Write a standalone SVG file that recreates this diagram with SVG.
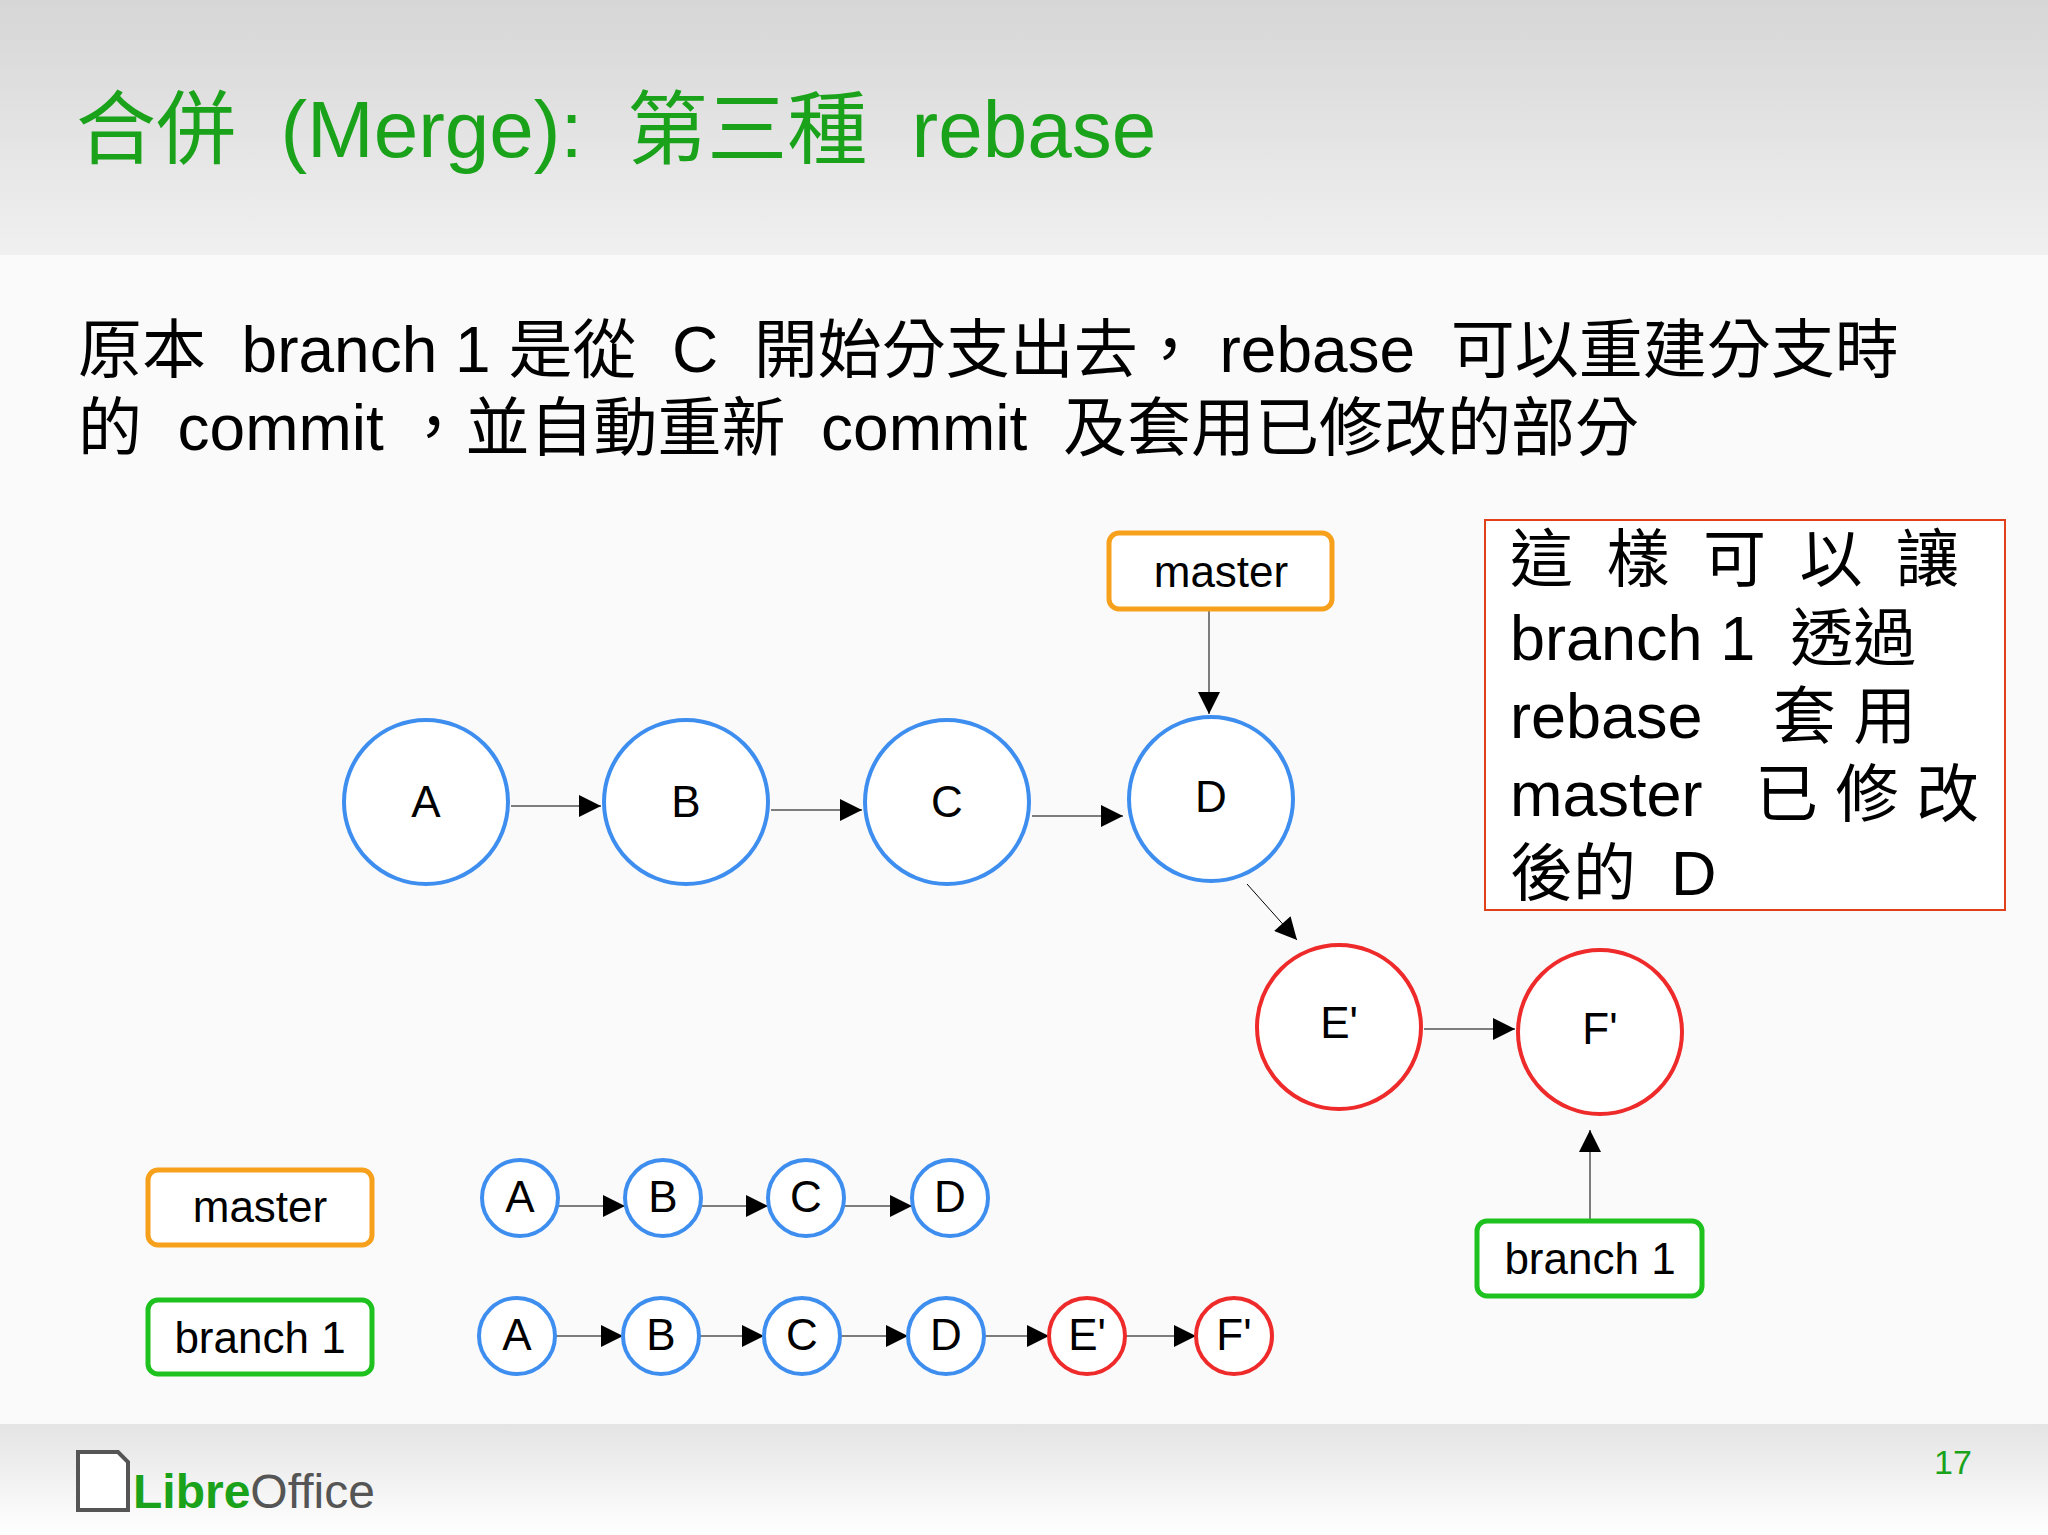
<svg xmlns="http://www.w3.org/2000/svg" width="2048" height="1535" viewBox="0 0 2048 1535">
<defs>
<linearGradient id="hdr" x1="0" y1="0" x2="0" y2="1"><stop offset="0" stop-color="#d6d6d6"/><stop offset="1" stop-color="#f0f0f0"/></linearGradient>
<linearGradient id="ftr" x1="0" y1="0" x2="0" y2="1"><stop offset="0" stop-color="#e4e4e4"/><stop offset="1" stop-color="#ffffff"/></linearGradient>
<marker id="ahb" viewBox="0 0 10 10" refX="10" refY="5" markerWidth="30" markerHeight="22" markerUnits="userSpaceOnUse" orient="auto"><path d="M0,0 L10,5 L0,10 z" fill="#000"/></marker>
</defs>
<style>
text{font-family:"Liberation Sans","Noto Sans CJK TC",sans-serif;white-space:pre}
.bc{fill:#fff;stroke:#3e8ef0;stroke-width:4}
.rc{fill:#fff;stroke:#ee2a2a;stroke-width:4}
.ob{fill:#fff;stroke:#f7a01c;stroke-width:5}
.gb{fill:#fff;stroke:#1ec21e;stroke-width:5}
.lbl{font-size:44px;fill:#000;text-anchor:middle}
.sl{font-size:44px;fill:#000;text-anchor:middle}
.c{stroke:#000;stroke-width:1;fill:none}
</style>
<rect width="2048" height="1535" fill="#fafafa"/>
<rect width="2048" height="255" fill="url(#hdr)"/>
<rect y="1424" width="2048" height="111" fill="url(#ftr)"/>
<text x="76" y="157" font-size="80" fill="#1aa31a">合併  (Merge):  第三種  rebase</text>
<text x="78" y="372" font-size="64" fill="#000">原本  branch 1 是從  C  開始分支出去， rebase  可以重建分支時</text>
<text x="78" y="450" font-size="64" fill="#000">的  commit ，並自動重新  commit  及套用已修改的部分</text>
<g id="connectors">
<line class="c" x1="511" y1="806" x2="601" y2="806" marker-end="url(#ahb)"/>
<line class="c" x1="771" y1="810" x2="862" y2="810" marker-end="url(#ahb)"/>
<line class="c" x1="1032" y1="816" x2="1123" y2="816" marker-end="url(#ahb)"/>
<line class="c" x1="1247" y1="884" x2="1297" y2="940" marker-end="url(#ahb)"/>
<line class="c" x1="1424" y1="1029" x2="1515" y2="1029" marker-end="url(#ahb)"/>
<line class="c" x1="1209" y1="609" x2="1209" y2="714" marker-end="url(#ahb)"/>
<line class="c" x1="1590" y1="1221" x2="1590" y2="1130" marker-end="url(#ahb)"/>
<line class="c" x1="558" y1="1206" x2="625" y2="1206" marker-end="url(#ahb)"/>
<line class="c" x1="701" y1="1206" x2="768" y2="1206" marker-end="url(#ahb)"/>
<line class="c" x1="844" y1="1206" x2="912" y2="1206" marker-end="url(#ahb)"/>
<line class="c" x1="555" y1="1336" x2="623" y2="1336" marker-end="url(#ahb)"/>
<line class="c" x1="699" y1="1336" x2="764" y2="1336" marker-end="url(#ahb)"/>
<line class="c" x1="840" y1="1336" x2="908" y2="1336" marker-end="url(#ahb)"/>
<line class="c" x1="984" y1="1336" x2="1049" y2="1336" marker-end="url(#ahb)"/>
<line class="c" x1="1125" y1="1336" x2="1196" y2="1336" marker-end="url(#ahb)"/>
</g>
<g id="A"><circle class="bc" cx="426" cy="802" r="82"/><text class="lbl" x="426" y="817">A</text></g>
<g id="B"><circle class="bc" cx="686" cy="802" r="82"/><text class="lbl" x="686" y="817">B</text></g>
<g id="C"><circle class="bc" cx="947" cy="802" r="82"/><text class="lbl" x="947" y="817">C</text></g>
<g id="D"><circle class="bc" cx="1211" cy="799" r="82"/><text class="lbl" x="1211" y="812">D</text></g>
<g id="E"><circle class="rc" cx="1339" cy="1027" r="82"/><text class="lbl" x="1339" y="1038">E'</text></g>
<g id="F"><circle class="rc" cx="1600" cy="1032" r="82"/><text class="lbl" x="1600" y="1044">F'</text></g>
<g id="master"><rect class="ob" x="1109" y="533" width="223" height="76" rx="10"/><text class="lbl" x="1221" y="587">master</text></g>
<g id="branch1"><rect class="gb" x="1477" y="1221" width="225" height="75" rx="10"/><text class="lbl" x="1590" y="1274">branch 1</text></g>
<g id="note"><rect x="1485" y="520" width="520" height="390" fill="#fff" stroke="#e0401a" stroke-width="2"/>
<text font-size="63" fill="#000"><tspan x="1510" y="581" letter-spacing="8">這 樣 可 以 讓</tspan><tspan x="1510" y="660">branch 1  透過</tspan><tspan x="1510" y="738">rebase    套 用</tspan><tspan x="1510" y="816">master   已 修 改</tspan><tspan x="1510" y="895">後的  D</tspan></text></g>
<g id="lmaster"><rect class="ob" x="148" y="1170" width="224" height="75" rx="10"/><text class="lbl" x="260" y="1222">master</text></g>
<g id="lbranch1"><rect class="gb" x="148" y="1300" width="224" height="74" rx="10"/><text class="lbl" x="260" y="1353">branch 1</text></g>
<g id="r1">
<circle class="bc" cx="520" cy="1198" r="38"/><text class="sl" x="520" y="1212">A</text>
<circle class="bc" cx="663" cy="1198" r="38"/><text class="sl" x="663" y="1212">B</text>
<circle class="bc" cx="806" cy="1198" r="38"/><text class="sl" x="806" y="1212">C</text>
<circle class="bc" cx="950" cy="1198" r="38"/><text class="sl" x="950" y="1212">D</text>
</g>
<g id="r2">
<circle class="bc" cx="517" cy="1336" r="38"/><text class="sl" x="517" y="1350">A</text>
<circle class="bc" cx="661" cy="1336" r="38"/><text class="sl" x="661" y="1350">B</text>
<circle class="bc" cx="802" cy="1336" r="38"/><text class="sl" x="802" y="1350">C</text>
<circle class="bc" cx="946" cy="1336" r="38"/><text class="sl" x="946" y="1350">D</text>
<circle class="rc" cx="1087" cy="1336" r="38"/><text class="sl" x="1087" y="1350">E'</text>
<circle class="rc" cx="1234" cy="1336" r="38"/><text class="sl" x="1234" y="1350">F'</text>
</g>
<g id="footer">
<path d="M78,1452 h40 l10,10 v48 h-50 z" fill="#fff" stroke="#555" stroke-width="4"/>
<text x="133" y="1508" font-size="48"><tspan fill="#1aa31a" font-weight="bold">Libre</tspan><tspan fill="#555">Office</tspan></text>
<text x="1953" y="1474" font-size="34" fill="#1aa31a" text-anchor="middle">17</text>
</g>
</svg>
